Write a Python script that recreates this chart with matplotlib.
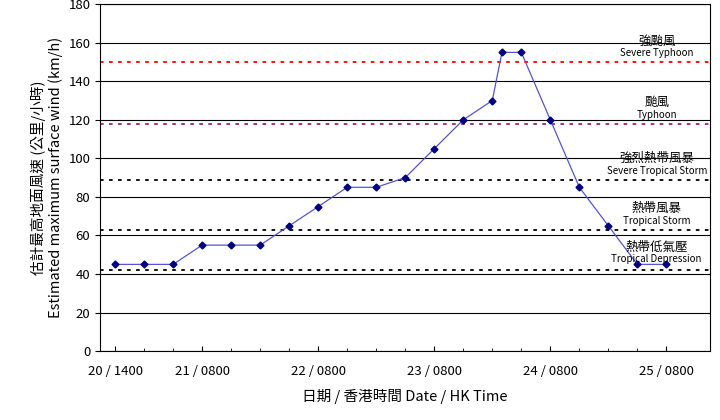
import matplotlib.pyplot as plt

plt.rcParams["font.family"] = ["Noto Sans CJK TC", "DejaVu Sans"]

hours = [0, 6, 12, 18, 24, 30, 36, 42, 48, 54, 60, 66, 72, 78, 80, 84, 90, 96, 102, 108, 114]
wind = [45, 45, 45, 55, 55, 55, 65, 75, 85, 85, 90, 105, 120, 130, 155, 155, 120, 85, 65, 45, 45]
tick_hours = [0, 18, 42, 66, 90, 114]
tick_labels = ["20 / 1400", "21 / 0800", "22 / 0800", "23 / 0800", "24 / 0800", "25 / 0800"]
thresholds = [150, 118, 89, 63, 42]
th_colors = ["red", "#a0207a", "black", "black", "black"]
cats = [("強颱風", "Severe Typhoon", 151), ("颱風", "Typhoon", 119),
        ("強烈熱帶風暴", "Severe Tropical Storm", 90), ("熱帶風暴", "Tropical Storm", 64),
        ("熱帶低氣壓", "Tropical Depression", 44)]

fig = plt.figure(figsize=(7.2, 4.2), dpi=100)
ax = fig.add_axes([0.139, 0.164, 0.847, 0.826])
ax.set_xlim(-3.1, 123)
ax.set_ylim(0, 180)
ax.set_yticks(range(0, 181, 20))
ax.grid(axis="y", color="black", linewidth=0.8)
ax.set_axisbelow(True)
for y, c in zip(thresholds, th_colors):
    ax.axhline(y, color=c, linestyle=(0, (2, 3)), linewidth=1.3)
for zh, en, y in cats:
    ax.text(112, y + 6.5, zh, ha="center", va="bottom", fontsize=9)
    ax.text(112, y + 1, en, ha="center", va="bottom", fontsize=7)
ax.plot(hours, wind, color="#5555cc", linewidth=0.9, marker="D", markersize=3.5,
        markerfacecolor="#000080", markeredgecolor="#000080")
ax.set_xticks(tick_hours)
ax.set_xticklabels(tick_labels, fontsize=9.5)
ax.set_xticks(range(0, 120, 6), minor=True)
ax.tick_params(axis="x", which="both", direction="in", pad=10)
ax.tick_params(axis="y", labelsize=9.5)
ax.set_xlabel("日期 / 香港時間 Date / HK Time", fontsize=10.5, labelpad=8)
ax.set_ylabel("估計最高地面風速 (公里/小時)\nEstimated maximum surface wind (km/h)", fontsize=10.5)
fig.savefig("out.png")
